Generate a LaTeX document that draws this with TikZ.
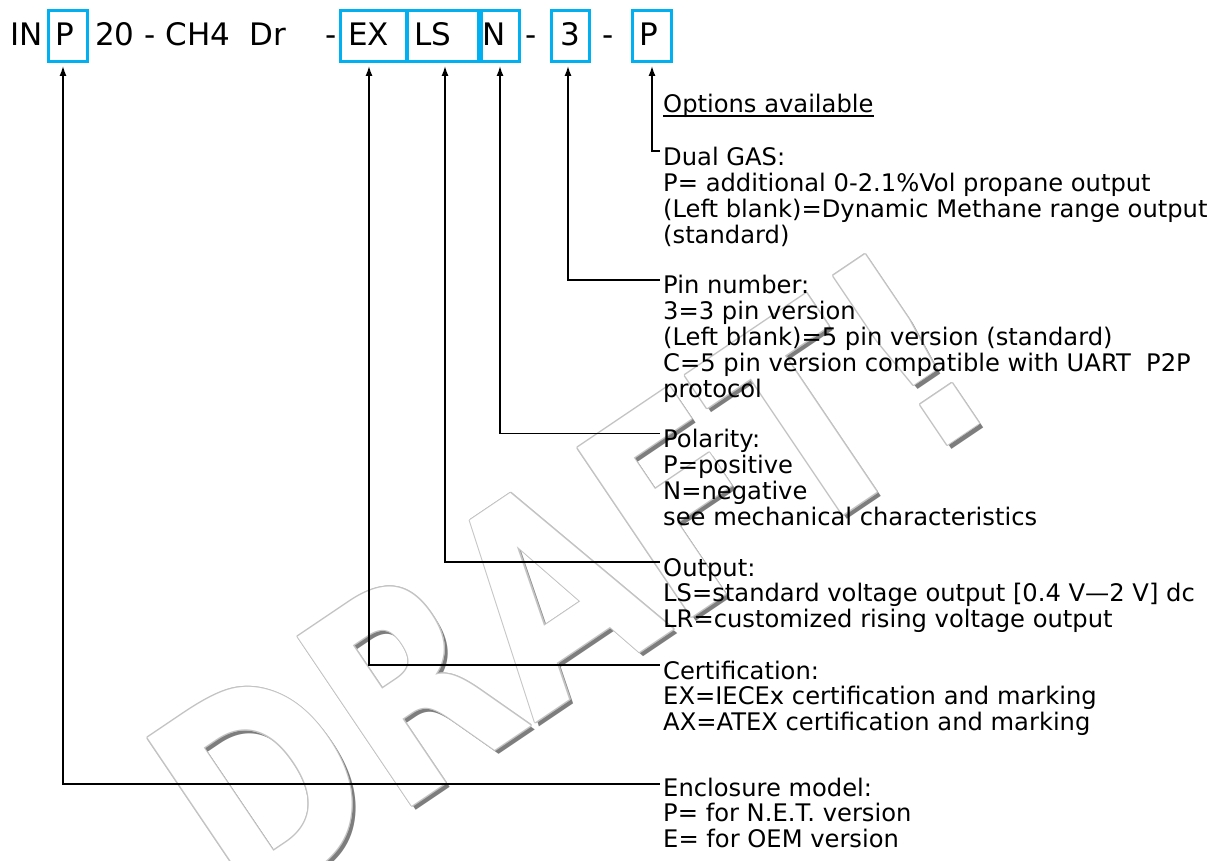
\documentclass[tikz,border=0pt]{standalone}
\usepackage{fontspec}
\setmainfont{DejaVu Sans}
\usetikzlibrary{arrows.meta, calc}
\definecolor{codeblue}{RGB}{0,176,240}
\definecolor{wmline}{RGB}{195,195,195}
\definecolor{wmshadow}{RGB}{125,125,125}
\newcommand{\hdrfont}{\fontsize{31}{31}\selectfont}
\newcommand{\descfont}{\fontsize{24.2}{25.3}\selectfont}
\newcommand{\wmfont}{\fontsize{280}{280}\selectfont\bfseries}
\newcommand{\desclines}[1]{\begin{tabular}[t]{@{}l@{}}#1\end{tabular}}

\begin{document}
\begin{tikzpicture}[x=1pt, y=-1pt,
    hdr/.style={anchor=base west, inner sep=0pt, font=\hdrfont},
    codebox/.style={draw=codeblue, line width=3pt, minimum height=51pt, inner sep=0pt},
    desc/.style={anchor=base west, inner sep=0pt, font=\descfont},
    conn/.style={{Latex[length=10pt, width=7pt]}-, line width=1.4pt},
    wmark/.style={font=\wmfont, inner sep=0pt, rotate=34, xscale=0.78}
]
\useasboundingbox (0,0) rectangle (1216,861);
\fill[white] (0,0) rectangle (1216,861);

% Watermark
\coordinate (wm) at (568,578);
\begin{scope}
\clip (0,0) rectangle (1216,861);
\node[wmark, text=wmshadow] (draftshadow) at ($(wm)+(4,4)$) {DRAFT!};
\foreach \a in {0,30,...,330}
  \node[wmark, text=wmline] at ($(wm)+(\a:1.1)$) {DRAFT!};
\node[wmark, text=white] (draft) at (wm) {DRAFT!};
\end{scope}

% Code line
\node[hdr] (hIN) at (10.5,46) {IN};
\node[codebox, minimum width=39pt] (bP) at (67.5,36.5) {};
\node[hdr] (hP) at (55,46) {P};
\node[hdr] (hCode) at (95,46) {20 - CH4~~Dr};
\node[hdr] (hDash1) at (325.5,46) {-};
\node[codebox, minimum width=66pt] (bEX) at (373,36.5) {};
\node[hdr] (hEX) at (348,46) {EX};
\node[codebox, minimum width=71pt] (bLS) at (442.5,36.5) {};
\node[hdr] (hLS) at (414,46) {LS};
\node[codebox, minimum width=38pt] (bN) at (500,36.5) {};
\node[hdr] (hN) at (482,46) {N};
\node[hdr] (hDash2) at (525.5,46) {-};
\node[codebox, minimum width=38pt] (b3) at (570,36.5) {};
\node[hdr] (h3) at (560.6,46) {3};
\node[hdr] (hDash3) at (602.5,46) {-};
\node[codebox, minimum width=39pt] (bP2) at (651.5,36.5) {};
\node[hdr] (hP2) at (639,46) {P};

% Arrow tips under the boxes
\coordinate (aP) at (63,66);
\coordinate (aEX) at (369,66);
\coordinate (aLS) at (445,66);
\coordinate (aN) at (500,66);
\coordinate (a3) at (568,66);
\coordinate (aP2) at (652,66);

% Descriptions
\node[desc] (opt) at (663,113) {Options available};
\draw[line width=1.2pt] ([yshift=-3pt]opt.base west) -- ([yshift=-3pt]opt.base east);
\node[desc] (dual) at (663,166) {\desclines{Dual GAS:\\P= additional 0-2.1\%Vol propane output\\(Left blank)=Dynamic Methane range output\\(standard)}};
\node[desc] (pin) at (663,294) {\desclines{Pin number:\\3=3 pin version\\(Left blank)=5 pin version (standard)\\C=5 pin version compatible with UART~~P2P\\protocol}};
\node[desc] (pol) at (663,447.5) {\desclines{Polarity:\\P=positive\\N=negative\\see mechanical characteristics}};
\node[desc] (out) at (663,576) {\desclines{Output:\\LS=standard voltage output [0.4 V—2 V] dc\\LR=customized rising voltage output}};
\node[desc] (cert) at (663,679) {\desclines{Certification:\\EX=IECEx certification and marking\\AX=ATEX certification and marking}};
\node[desc] (encl) at (663,796) {\desclines{Enclosure model:\\P= for N.E.T. version\\E= for OEM version}};

% Connectors
\draw[conn] (aP2) |- ([xshift=-3pt, yshift=15pt]dual.base west);
\draw[conn] (a3) |- ([xshift=-3pt, yshift=14pt]pin.base west);
\draw[conn] (aN) |- ([xshift=-3pt, yshift=14pt]pol.base west);
\draw[conn] (aLS) |- ([xshift=-3pt, yshift=14pt]out.base west);
\draw[conn] (aEX) |- ([xshift=-3pt, yshift=14pt]cert.base west);
\draw[conn] (aP) |- ([xshift=-3pt, yshift=12pt]encl.base west);

\end{tikzpicture}
\end{document}
